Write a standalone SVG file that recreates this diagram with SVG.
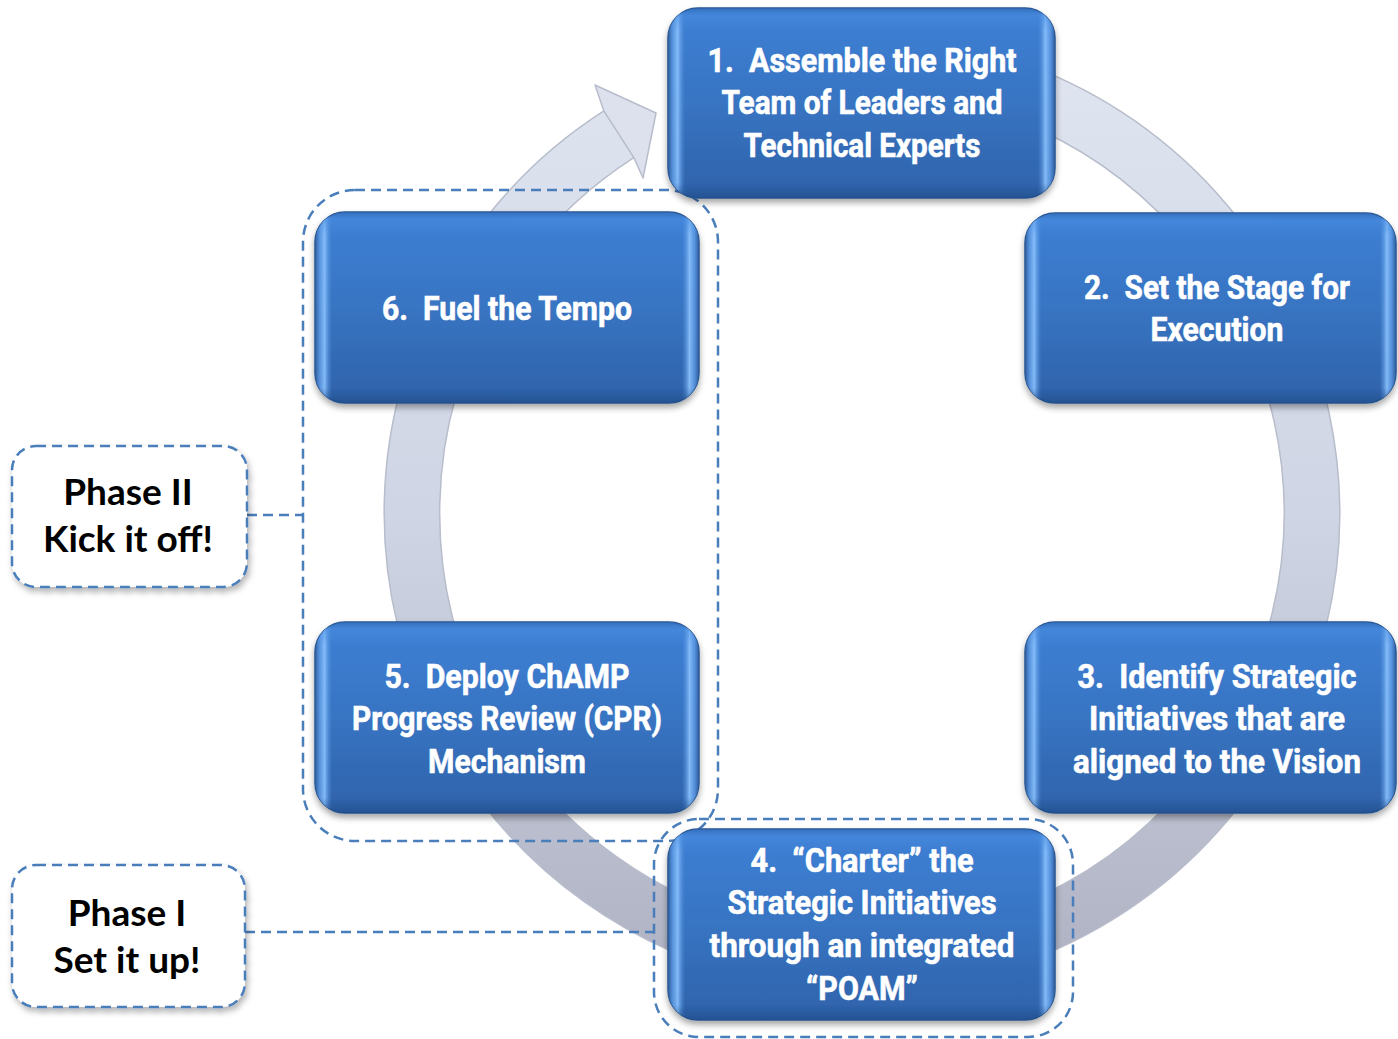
<svg xmlns="http://www.w3.org/2000/svg" width="1398" height="1039" viewBox="0 0 1398 1039">
  <style>
    .step { font-family: Roboto, "Liberation Sans", Arial, sans-serif; font-weight: bold; font-size: 34px; fill: #ffffff; stroke: #ffffff; stroke-width: 0.6; text-anchor: middle; }
    .phase { font-family: Lato, "Liberation Sans", sans-serif; font-weight: bold; font-size: 37px; fill: #000000; text-anchor: middle; }
    .card { fill: url(#boxFill); stroke: #28548f; stroke-width: 1.5; filter: url(#boxShadow); }
    .gloss { fill: url(#edgeGlow); }
    .topsheen { fill: url(#topSheen); }
    .group { fill: none; stroke: #4a7ebb; stroke-width: 2.5; stroke-dasharray: 10 6; }
    .tag { fill: #ffffff; stroke: #4a7ebb; stroke-width: 2.5; stroke-dasharray: 10 6; filter: url(#tagShadow); }
    .link { fill: none; stroke: #4a7ebb; stroke-width: 2.5; stroke-dasharray: 10 6; }
  </style>
  <defs>
    <linearGradient id="boxFill" x1="0" y1="0" x2="0" y2="1">
      <stop offset="0" stop-color="#3d80d6"/>
      <stop offset="0.5" stop-color="#3874c2"/>
      <stop offset="1" stop-color="#2e62aa"/>
    </linearGradient>
    <linearGradient id="edgeGlow" x1="0" y1="0" x2="1" y2="0">
      <stop offset="0" stop-color="#2a5797" stop-opacity="0.9"/>
      <stop offset="0.012" stop-color="#5f9be3" stop-opacity="0.8"/>
      <stop offset="0.025" stop-color="#8cc3ff" stop-opacity="0.9"/>
      <stop offset="0.045" stop-color="#4a8ad8" stop-opacity="0"/>
      <stop offset="0.955" stop-color="#4a8ad8" stop-opacity="0"/>
      <stop offset="0.975" stop-color="#8cc3ff" stop-opacity="0.9"/>
      <stop offset="0.988" stop-color="#5f9be3" stop-opacity="0.8"/>
      <stop offset="1" stop-color="#2a5797" stop-opacity="0.9"/>
    </linearGradient>
    <linearGradient id="topSheen" x1="0" y1="0" x2="0" y2="1">
      <stop offset="0" stop-color="#2f65b0" stop-opacity="0.7"/>
      <stop offset="0.04" stop-color="#4a8ee0" stop-opacity="0.5"/>
      <stop offset="0.12" stop-color="#4a8ee0" stop-opacity="0"/>
      <stop offset="0.92" stop-color="#1f4a85" stop-opacity="0"/>
      <stop offset="1" stop-color="#1f4a85" stop-opacity="0.6"/>
    </linearGradient>
    <linearGradient id="ringFill" gradientUnits="userSpaceOnUse" x1="0" y1="35" x2="0" y2="991">
      <stop offset="0" stop-color="#e0e5f1"/>
      <stop offset="0.5" stop-color="#cfd5e4"/>
      <stop offset="1" stop-color="#aeb1c1"/>
    </linearGradient>
    <filter id="boxShadow" x="-10%" y="-10%" width="120%" height="130%">
      <feDropShadow dx="0" dy="4" stdDeviation="3" flood-color="#000000" flood-opacity="0.35"/>
    </filter>
    <filter id="tagShadow" x="-10%" y="-10%" width="120%" height="130%">
      <feDropShadow dx="2" dy="4" stdDeviation="3" flood-color="#000000" flood-opacity="0.3"/>
    </filter>
  </defs>

  <!-- circular flow arrow behind the steps -->
  <g id="cycle-arrow">
    <path d="M 799.4 67.4 A 450 450 0 1 1 618.9 134.3" fill="none" stroke="#b8bdcc" stroke-width="57"/>
    <path d="M 799.4 67.4 A 450 450 0 1 1 618.9 134.3" fill="none" stroke="url(#ringFill)" stroke-width="54"/>
    <polygon points="603.8,110.8 595,85 656,113 643,178 634,157.9" fill="#dce1ed" stroke="#b8bdcc" stroke-width="1.5" stroke-linejoin="round"/>
  </g>

  <!-- phase groupings and their labels' leader lines -->
  <g id="connectors">
    <rect class="group" x="303" y="190" width="415" height="651" rx="52" ry="52"/>
    <rect class="group" x="654" y="819" width="419" height="218" rx="45" ry="45"/>
    <line class="link" x1="247" y1="515" x2="303" y2="515"/>
    <line class="link" x1="245" y1="932" x2="654" y2="932"/>
  </g>

  <g id="step1">
    <rect class="card" x="668" y="8" width="387" height="190" rx="30"/>
    <rect class="gloss" x="668" y="8" width="387" height="190" rx="30"/>
    <rect class="topsheen" x="668" y="8" width="387" height="190" rx="30"/>
    <text class="step" x="862" y="72" textLength="309" lengthAdjust="spacingAndGlyphs">1.&#160; Assemble the Right</text>
    <text class="step" x="862" y="114" textLength="281" lengthAdjust="spacingAndGlyphs">Team of Leaders and</text>
    <text class="step" x="862" y="157" textLength="237" lengthAdjust="spacingAndGlyphs">Technical Experts</text>
  </g>

  <g id="step2">
    <rect class="card" x="1025" y="213" width="371" height="190" rx="30"/>
    <rect class="gloss" x="1025" y="213" width="371" height="190" rx="30"/>
    <rect class="topsheen" x="1025" y="213" width="371" height="190" rx="30"/>
    <text class="step" x="1217" y="299" textLength="266" lengthAdjust="spacingAndGlyphs">2.&#160; Set the Stage for</text>
    <text class="step" x="1217" y="341" textLength="133" lengthAdjust="spacingAndGlyphs">Execution</text>
  </g>

  <g id="step3">
    <rect class="card" x="1025" y="622" width="371" height="191" rx="30"/>
    <rect class="gloss" x="1025" y="622" width="371" height="191" rx="30"/>
    <rect class="topsheen" x="1025" y="622" width="371" height="191" rx="30"/>
    <text class="step" x="1217" y="688" textLength="279" lengthAdjust="spacingAndGlyphs">3.&#160; Identify Strategic</text>
    <text class="step" x="1217" y="730" textLength="256" lengthAdjust="spacingAndGlyphs">Initiatives that are</text>
    <text class="step" x="1217" y="773" textLength="288" lengthAdjust="spacingAndGlyphs">aligned to the Vision</text>
  </g>

  <g id="step4">
    <rect class="card" x="668" y="829" width="387" height="191" rx="30"/>
    <rect class="gloss" x="668" y="829" width="387" height="191" rx="30"/>
    <rect class="topsheen" x="668" y="829" width="387" height="191" rx="30"/>
    <text class="step" x="862" y="872" textLength="223" lengthAdjust="spacingAndGlyphs">4.&#160; “Charter” the</text>
    <text class="step" x="862" y="914" textLength="269" lengthAdjust="spacingAndGlyphs">Strategic Initiatives</text>
    <text class="step" x="862" y="957" textLength="305" lengthAdjust="spacingAndGlyphs">through an integrated</text>
    <text class="step" x="862" y="1000" textLength="112" lengthAdjust="spacingAndGlyphs">“POAM”</text>
  </g>

  <g id="step5">
    <rect class="card" x="315" y="622" width="384" height="191" rx="30"/>
    <rect class="gloss" x="315" y="622" width="384" height="191" rx="30"/>
    <rect class="topsheen" x="315" y="622" width="384" height="191" rx="30"/>
    <text class="step" x="507" y="688" textLength="245" lengthAdjust="spacingAndGlyphs">5.&#160; Deploy ChAMP</text>
    <text class="step" x="507" y="730" textLength="310" lengthAdjust="spacingAndGlyphs">Progress Review (CPR)</text>
    <text class="step" x="507" y="773" textLength="158" lengthAdjust="spacingAndGlyphs">Mechanism</text>
  </g>

  <g id="step6">
    <rect class="card" x="315" y="212" width="384" height="191" rx="30"/>
    <rect class="gloss" x="315" y="212" width="384" height="191" rx="30"/>
    <rect class="topsheen" x="315" y="212" width="384" height="191" rx="30"/>
    <text class="step" x="507" y="320" textLength="250" lengthAdjust="spacingAndGlyphs">6.&#160; Fuel the Tempo</text>
  </g>

  <g id="phase2">
    <rect class="tag" x="12" y="446" width="235" height="141" rx="24"/>
    <text class="phase" x="128" y="505">Phase II</text>
    <text class="phase" x="128" y="552">Kick it off!</text>
  </g>

  <g id="phase1">
    <rect class="tag" x="12" y="865" width="233" height="142" rx="24"/>
    <text class="phase" x="127" y="926">Phase I</text>
    <text class="phase" x="127" y="973">Set it up!</text>
  </g>
</svg>
